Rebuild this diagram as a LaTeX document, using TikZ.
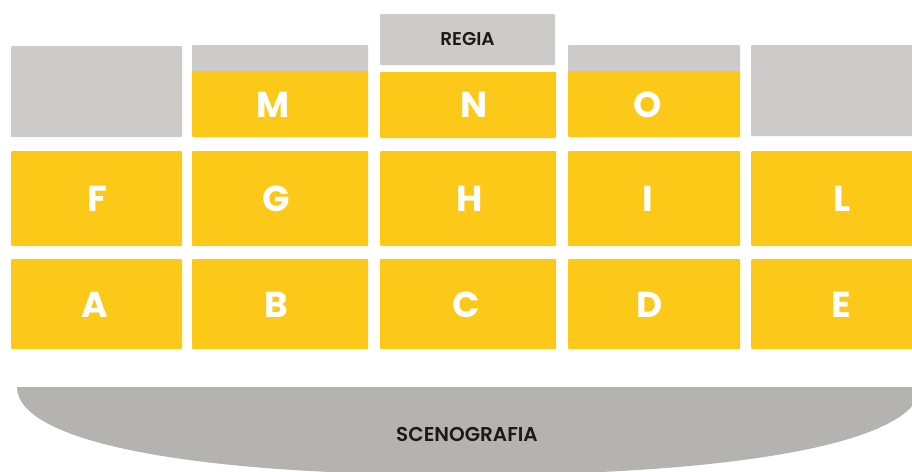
\documentclass[tikz,border=0pt]{standalone}
\usepackage{fontspec}
\setmainfont{Poppins}
\newfontfamily\popsemi{Poppins SemiBold}
\definecolor{seatyellow}{HTML}{FDC918}
\definecolor{seatgray}{HTML}{CCCBCA}
\definecolor{stagegray}{HTML}{B4B3B2}
\definecolor{darktext}{HTML}{1A1A1A}
\tikzset{
  seatbox/.style={fill=seatyellow, draw=none, rounded corners=1pt},
  graybox/.style={fill=seatgray, draw=none, rounded corners=1pt},
  seatlabel/.style={text=white, font=\bfseries\fontsize{36}{36}\selectfont, inner sep=0pt, anchor=center},
  darklabel/.style={text=darktext, font=\popsemi\fontsize{18.5}{18.5}\selectfont, inner sep=0pt, anchor=center}
}
\begin{document}
\begin{tikzpicture}[x=1pt,y=-1pt]
\useasboundingbox (0,0) rectangle (912,471);
\fill[white] (0,0) rectangle (912,471);
\clip (0,0) rectangle (912,471);
% top row
\fill[graybox] (11,46) rectangle (182,137);
\fill[graybox] (192,45) rectangle (368,73);
\fill[seatbox] (192,71) rectangle (368,137);
\fill[graybox] (380,14) rectangle (555,65);
\fill[seatbox] (380,72) rectangle (556,138);
\fill[graybox] (568,45) rectangle (740,73);
\fill[seatbox] (568,71) rectangle (740,137);
\fill[graybox] (751,45) rectangle (916,136);
% middle row
\fill[seatbox] (11,151) rectangle (182,246);
\fill[seatbox] (192,151) rectangle (368,246);
\fill[seatbox] (380,151) rectangle (556,246);
\fill[seatbox] (568,151) rectangle (740,246);
\fill[seatbox] (751,151) rectangle (916,246);
% bottom row
\fill[seatbox] (11,259) rectangle (182,349);
\fill[seatbox] (192,259) rectangle (368,349);
\fill[seatbox] (380,259) rectangle (556,349);
\fill[seatbox] (568,259) rectangle (740,349);
\fill[seatbox] (751,259) rectangle (916,349);
% stage
\fill[stagegray] (17,387) -- (920,387) .. controls (920,440) and (750,475) .. (465,475)
  .. controls (180,475) and (17,440) .. (17,387) -- cycle;
% labels
\node[darklabel] (regia) at (467.5,39.5) {REGIA};
\node[seatlabel] (M) at (273.5,105) {M};
\node[seatlabel] (N) at (474,105) {N};
\node[seatlabel] (O) at (648,105) {O};
\node[seatlabel] (F) at (97,198.5) {F};
\node[seatlabel] (G) at (276,198.5) {G};
\node[seatlabel] (H) at (470,198.5) {H};
\node[seatlabel] (I) at (648,198.5) {I};
\node[seatlabel] (L) at (842,198.5) {L};
\node[seatlabel] (A) at (94.5,305) {A};
\node[seatlabel] (B) at (276,305) {B};
\node[seatlabel] (C) at (466.5,305) {C};
\node[seatlabel] (D) at (650,305) {D};
\node[seatlabel] (E) at (841,305) {E};
\node[darklabel, font=\popsemi\fontsize{20}{20}\selectfont] (sceno) at (467,434) {SCENOGRAFIA};
\end{tikzpicture}
\end{document}
